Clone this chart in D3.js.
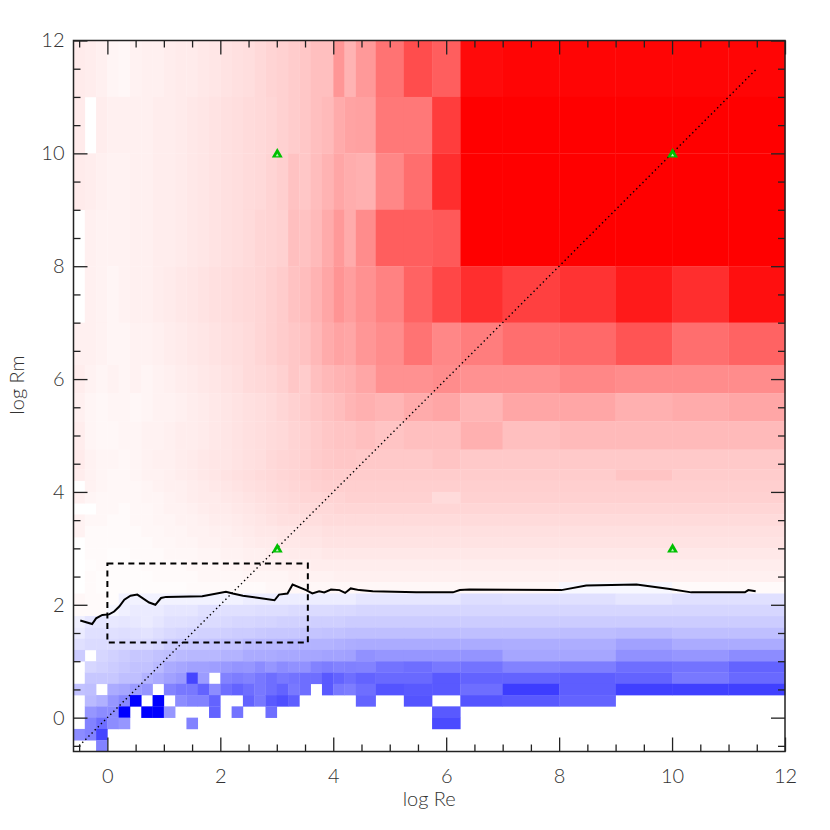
<!DOCTYPE html>
<html lang="en">
<head>
<meta charset="UTF-8">
<title>log Re - log Rm</title>
<script src="https://d3js.org/d3.v7.min.js"></script>
<style>
  body { margin: 0; background: #fff; }
  svg text { font-family: Lato, "DejaVu Sans", sans-serif; font-weight: 300; fill: #333; }
</style>
</head>
<body>
<svg width="830" height="830"></svg>
<script>
// cell edges, same on both axes (log values)
var edges = [-0.6,-0.4,-0.2,0,0.2,0.4,0.6,0.8,1,1.2,1.4,1.6,1.8,2,2.2,2.4,2.6,2.8,3,3.2,3.4,3.6,3.8,4,4.2,4.4,4.75,5.25,5.75,6.25,7,8,9,10,11,12];

// cell values in percent (-100 = blue, 100 = red), rows from top (log Rm 11-12) downwards, null = no data
var grid = [
  [8,7,6,4,3, 5,6,6,7,8, 8,9,10,11,12, 13,15,17,18,20, 22,25,25,41,30, 40,55,70,63,96, 98,98,98,98,98],
  [8,null,7,6,6, 6,6,7,7,8, 9,10,11,12,13, 14,15,16,18,20, 22,25,27,33,36, 37,53,53,76,100, 100,100,100,100,100],
  [8,7,6,5,5, 6,6,7,7,8, 9,10,11,12,13, 14,15,17,19,24, 22,26,30,35,32, 31,47,57,82,100, 100,100,100,100,100],
  [null,6,5,5,5, 6,6,7,7,8, 9,10,11,12,13, 14,16,17,18,25, 24,27,33,40,33, 45,63,63,65,100, 100,100,100,100,100],
  [null,6,5,4,5, 6,6,7,8,9, 10,11,12,13,14, 15,16,18,20,24, 26,30,35,42,38, 43,49,61,72,82, 75,80,90,82,94],
  [6,6,5,4,4, 5,5,6,7,8, 9,10,11,12,13, 14,16,18,20,22, 24,28,33,36,35, 41,45,55,47,51, 57,59,67,57,61],
  [7,5,4,5,4, 5,4,5,6,7, 8,9,10,11,12, 14,15,16,18,22, 20,25,28,30,31, 35,43,43,45,43, 43,47,45,45,45],
  [6,4,3,4,4, 3,4,5,5,6, 7,8,9,10,11, 12,13,14,16,18, 20,22,24,26,29, 31,29,33,35,29, 35,35,31,33,35],
  [7,4,3,3,4, 4,5,5,6,7, 7,8,9,10,11, 12,13,14,15,17, 18,20,22,23,23, 25,23,25,25,31, 25,27,27,27,27],
  [8,5,4,4,3, 4,5,6,6,7, 8,9,10,10,11, 12,13,15,16,17, 18,20,21,22,22, 21,21,21,23,21, 21,21,21,21,21],
  [7,5,4,3,3, 4,5,5,6,7, 8,9,10,11,12, 13,14,15,16,17, 18,19,20,20,20, 20,20,20,20,20, 20,20,23,20,20],
  [null,5,4,3,3, 3,4,5,6,6, 7,8,9,10,11, 12,13,14,15,16, 17,18,19,19,19, 19,19,19,19,19, 19,19,19,19,19],
  [6,4,3,3,3, 3,4,4,5,6, 7,8,8,9,10, 11,12,13,14,15, 16,16,17,17,18, 18,18,18,14,18, 18,18,18,18,18],
  [null,null,3,3,2, 3,3,4,5,5, 6,7,8,8,9, 10,11,12,13,14, 14,15,15,16,16, 16,16,16,16,16, 16,16,16,16,16],
  [5,3,3,2,2, 3,3,4,4,5, 5,6,7,7,8, 9,10,11,12,12, 13,13,14,14,14, 14,14,14,14,14, 14,14,14,14,14],
  [5,2,2,2,2, 2,3,3,4,4, 5,5,6,6,7, 8,9,9,10,10, 11,11,12,12,12, 12,12,12,12,12, 12,12,12,12,12],
  [null,2,2,2,2, 2,2,3,3,4, 4,5,5,6,6, 7,8,8,9,9, 10,10,11,11,11, 11,11,11,11,11, 11,11,11,11,11],
  [null,2,2,1,1, 2,2,2,3,3, 3,4,4,5,5, 6,6,7,7,8, 8,8,9,9,9, 9,9,9,9,9, 9,9,9,9,9],
  [null,1,2,1,1, 1,2,2,2,2, 3,3,3,4,4, 5,5,5,6,6, 6,7,7,7,7, 7,7,7,7,7, 7,7,7,7,7],
  [null,2,1,1,1, 1,1,2,2,2, 2,3,3,3,3, 4,4,4,4,5, 5,5,5,6,6, 6,6,6,6,6, 6,6,6,6,6],
  [null,2,1,1,1, 1,1,1,1,1, 2,2,2,2,2, 2,2,3,3,3, 3,3,3,3,3, 3,3,3,3,3, 3,-3,-3,2,2],
  [3,2,2,1,-5, -5,-5,-5,-5,-5, -5,-5,-5,-5,-5, -7,-7,-7,-7,-7, -7,-7,-7,-7,-7, -10,-10,-10,-10,-13, -12,-12,-10,-12,-12],
  [2,2,2,-3,-6, -8,-8,-8,-10,-10, -10,-12,-12,-12,-12, -12,-13,-13,-13,-14, -14,-14,-14,-15,-15, -16,-16,-16,-16,-16, -16,-16,-16,-16,-16],
  [-6,-10,-10,-9,-10, -9,-8,-10,-12,-12, -13,-14,-14,-15,-16, -16,-17,-17,-18,-18, -18,-19,-19,-19,-20, -20,-20,-20,-20,-20, -20,-20,-20,-20,-20],
  [-8,-12,-12,-12,-13, -12,-11,-13,-15,-16, -17,-18,-18,-19,-20, -20,-21,-22,-22,-22, -23,-23,-24,-24,-25, -25,-25,-25,-25,-25, -25,-26,-27,-25,-25],
  [-12,-14,-14,-14,-15, -14,-14,-16,-20,-21, -22,-22,-23,-24,-24, -27,-28,-28,-28,-29, -30,-30,-30,-31,-32, -33,-33,-33,-33,-33, -32,-32,-37,-33,-33],
  [-20,null,-16,-18,-20, -22,-22,-24,-25,-27, -28,-28,-28,-30,-30, -33,-33,-33,-34,-34, -35,-35,-36,-36,-37, -43,-41,-41,-41,-42, -35,-35,-43,-41,-45],
  [null,-16,-18,-20,-22, -24,-24,-27,-33,-35, -37,-37,-38,-40,-42, -41,-45,-41,-45,-43, -43,-49,-51,-49,-50, -49,-55,-57,-53,-55, -49,-51,-57,-55,-61],
  [null,-22,-22,-22,-25, -25,-30,-33,-37,-40, -73,-39,null,-49,-51, -49,-53,-57,-53,-55, -57,-57,-65,-61,-57, -61,-59,-59,-65,-61, -61,-63,-61,-53,-59],
  [-24,-25,null,-33,-35, -39,-41,null,-49,-53, -53,-61,-45,-57,-61, -57,-53,-57,-61,-53, -57,null,-65,-53,-51, -57,-67,-65,-65,-57, -76,-63,-75,-75,-75],
  [null,-27,-31,-41,-47, -100,null,-100,null,-45, -49,-49,-61,null,null, -61,-53,-65,-69,-63, null,null,null,null,null, -61,null,-67,null,-67, -65,-61,null,null,null],
  [null,-41,-45,-45,-100, null,-100,-100,-41,null, null,null,-61,null,-55, null,null,-57,null,null, null,null,null,null,null, null,null,null,-65,null, null,null,null,null,null],
  [null,-49,-57,-45,-41, null,null,null,null,null, -49,null,null,null,null, null,null,null,null,null, null,null,null,null,null, null,null,null,-71,null, null,null,null,null,null],
  [-45,-49,-73,null,null, null,null,null,null,null, null,null,null,null,null, null,null,null,null,null, null,null,null,null,null, null,null,null,null,null, null,null,null,null,null],
  [null,null,-49,null,null, null,null,null,null,null, null,null,null,null,null, null,null,null,null,null, null,null,null,null,null, null,null,null,null,null, null,null,null,null,null]
];

// black contour line
var contourRe = [-0.48,-0.27,-0.2,-0.09,0.03,0.12,0.21,0.3,0.41,0.53,0.59,0.74,0.85,0.95,1.04,1.68,2.1,2.22,2.4,2.69,2.96,3.04,3.19,3.28,3.52,3.63,3.75,3.84,3.96,4.11,4.21,4.31,4.46,4.7,5.47,6.12,6.24,6.41,8.04,8.48,9.37,9.96,10.34,11.29,11.35,11.48];
var contourRm = [1.72,1.66,1.76,1.82,1.83,1.88,1.97,2.09,2.16,2.18,2.14,2.04,2.0,2.12,2.14,2.15,2.23,2.2,2.16,2.12,2.08,2.18,2.2,2.36,2.26,2.2,2.24,2.22,2.27,2.26,2.21,2.29,2.26,2.24,2.22,2.22,2.26,2.27,2.26,2.34,2.36,2.28,2.22,2.22,2.26,2.24];

// dashed box, dotted diagonal, green markers
var boxRe = [0, 3.55], boxRm = [1.33, 2.73];
var diagRe = [-0.5, 11.5], diagRm = [-0.5, 11.5];
var markRe = [3, 10, 3, 10], markRm = [10, 10, 3, 3];

var tickVals = [0, 2, 4, 6, 8, 10, 12];
var tickLabels = ["0", "2", "4", "6", "8", "10", "12"];

var svg = d3.select("svg");
var plotL = 73.5, plotR = 785, plotT = 40.5, plotB = 751.5;

var x = d3.scaleLinear().domain([-0.6, 12]).range([plotL, plotR]);
var y = d3.scaleLinear().domain([-0.6, 12]).range([plotB, plotT]);

function cellColor(v) {
  if (v >= 0) return d3.interpolateRgb("#ffffff", "#ff0000")(v / 100);
  return d3.interpolateRgb("#ffffff", "#0000ff")(-v / 100);
}

// flatten grid into cells
var cells = [];
var nRows = grid.length;
grid.forEach(function(row, i) {
  var j = nRows - 1 - i;
  row.forEach(function(v, k) {
    if (v === null) return;
    cells.push({ x0: edges[k], x1: edges[k + 1], y0: edges[j], y1: edges[j + 1], v: v });
  });
});

svg.append("g").selectAll("rect")
  .data(cells)
  .enter().append("rect")
  .attr("x", function(d) { return x(d.x0); })
  .attr("y", function(d) { return y(d.y1); })
  .attr("width", function(d) { return x(d.x1) - x(d.x0) + 0.3; })
  .attr("height", function(d) { return y(d.y0) - y(d.y1) + 0.3; })
  .attr("fill", function(d) { return cellColor(d.v); });

// dotted diagonal
svg.append("line")
  .attr("x1", x(diagRe[0])).attr("y1", y(diagRm[0]))
  .attr("x2", x(diagRe[1])).attr("y2", y(diagRm[1]))
  .attr("stroke", "#000").attr("stroke-width", 1.4)
  .attr("stroke-dasharray", "1.4 3");

// contour
var pts = contourRe.map(function(d, i) { return [d, contourRm[i]]; });
svg.append("path")
  .datum(pts)
  .attr("fill", "none").attr("stroke", "#000").attr("stroke-width", 2)
  .attr("d", d3.line().x(function(d) { return x(d[0]); }).y(function(d) { return y(d[1]); }));

// dashed box
svg.append("rect")
  .attr("x", x(boxRe[0])).attr("y", y(boxRm[1]))
  .attr("width", x(boxRe[1]) - x(boxRe[0]))
  .attr("height", y(boxRm[0]) - y(boxRm[1]))
  .attr("fill", "none").attr("stroke", "#000").attr("stroke-width", 2)
  .attr("stroke-dasharray", "6 4.5");

// green triangles (with the small light centre of the original symbols)
var marks = svg.append("g").selectAll("g")
  .data(markRe.map(function(d, i) { return [d, markRm[i]]; }))
  .enter().append("g")
  .attr("transform", function(d) { return "translate(" + (x(d[0]) + 0.5) + "," + (y(d[1]) + 1) + ")"; });
marks.append("path")
  .attr("d", d3.symbol().type(d3.symbolTriangle).size(52))
  .attr("fill", "#00c000");
marks.append("path")
  .attr("d", d3.symbol().type(d3.symbolTriangle).size(4))
  .attr("transform", "translate(0,1)")
  .attr("fill", "#b8f0b8");

// axes with inward ticks on all sides
var minor = d3.range(-0.5, 12.01, 0.5).filter(function(t) { return t % 2 !== 0; });

function styleAxis(g) {
  g.select(".domain").remove();
  g.selectAll("line").attr("stroke", "#222").attr("stroke-width", 1.3);
  g.selectAll("text").attr("font-size", 20).attr("fill", "#333");
}

svg.append("g").attr("transform", "translate(0," + plotB + ")")
  .call(d3.axisBottom(x).tickValues(tickVals).tickSize(-14).tickPadding(17)
    .tickFormat(function(d, i) { return tickLabels[i]; }))
  .call(styleAxis);
svg.append("g").attr("transform", "translate(0," + plotB + ")")
  .call(d3.axisBottom(x).tickValues(minor).tickSize(-7).tickFormat(""))
  .call(styleAxis);
svg.append("g").attr("transform", "translate(0," + plotT + ")")
  .call(d3.axisTop(x).tickValues(tickVals).tickSize(-14).tickFormat(""))
  .call(styleAxis);
svg.append("g").attr("transform", "translate(0," + plotT + ")")
  .call(d3.axisTop(x).tickValues(minor).tickSize(-7).tickFormat(""))
  .call(styleAxis);

svg.append("g").attr("transform", "translate(" + plotL + ",0)")
  .call(d3.axisLeft(y).tickValues(tickVals).tickSize(-14).tickPadding(9)
    .tickFormat(function(d, i) { return tickLabels[i]; }))
  .call(styleAxis);
svg.append("g").attr("transform", "translate(" + plotL + ",0)")
  .call(d3.axisLeft(y).tickValues(minor).tickSize(-7).tickFormat(""))
  .call(styleAxis);
svg.append("g").attr("transform", "translate(" + plotR + ",0)")
  .call(d3.axisRight(y).tickValues(tickVals).tickSize(-14).tickFormat(""))
  .call(styleAxis);
svg.append("g").attr("transform", "translate(" + plotR + ",0)")
  .call(d3.axisRight(y).tickValues(minor).tickSize(-7).tickFormat(""))
  .call(styleAxis);

// frame
svg.append("rect")
  .attr("x", plotL).attr("y", plotT)
  .attr("width", plotR - plotL).attr("height", plotB - plotT)
  .attr("fill", "none").attr("stroke", "#222").attr("stroke-width", 1.5);

// axis titles
svg.append("text")
  .attr("x", (plotL + plotR) / 2).attr("y", 806)
  .attr("text-anchor", "middle").attr("font-size", 20)
  .text("log Re");
svg.append("text")
  .attr("transform", "translate(24,385) rotate(-90)")
  .attr("text-anchor", "middle").attr("font-size", 20)
  .text("log Rm");
</script>
</body>
</html>
